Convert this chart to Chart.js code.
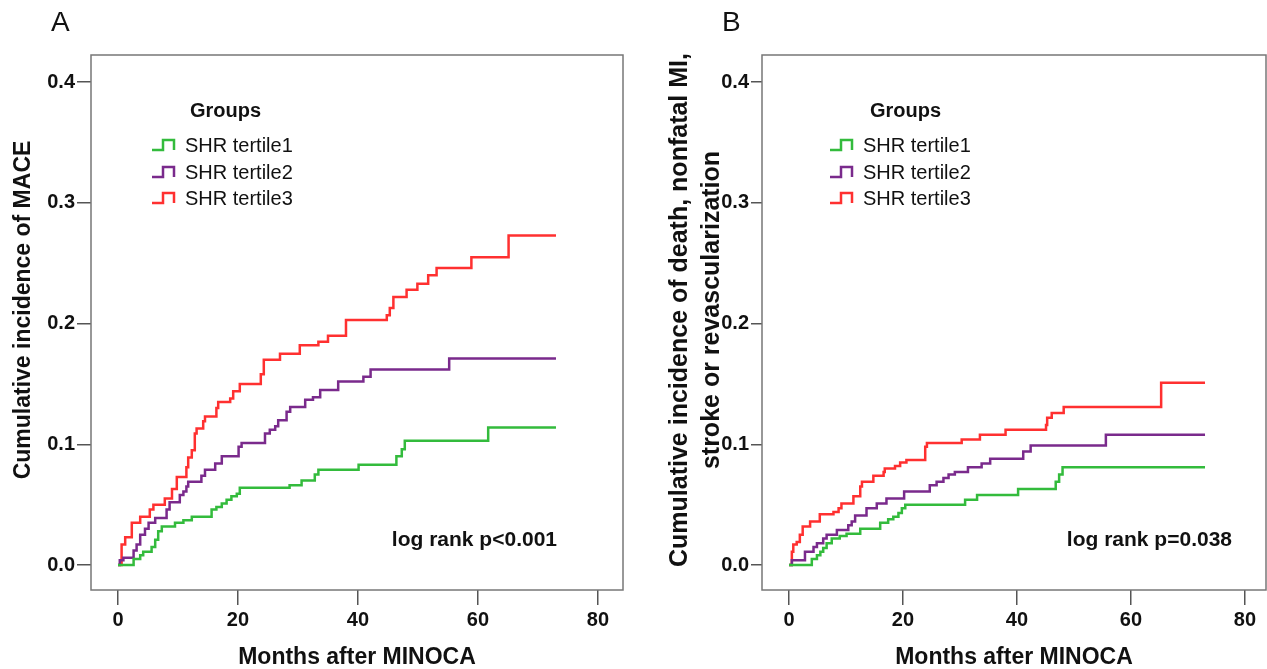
<!DOCTYPE html>
<html>
<head>
<meta charset="utf-8">
<script src="https://cdn.jsdelivr.net/npm/chart.js@4.4.0/dist/chart.umd.min.js"></script>
<style>
  html, body { margin: 0; padding: 0; background: #fff; }
  #wrap { position: relative; width: 1267px; height: 669px; overflow: hidden; }
  .panel { position: absolute; top: 0; height: 669px; }
  #pa { left: 0; width: 633px; }
  #pb { left: 633px; width: 634px; }
  .tag { position: absolute; top: 6px; font: 28px "Liberation Sans", Arial, sans-serif; color: #111; }
</style>
</head>
<body>
<div id="wrap">
  <div class="panel" id="pa"><canvas id="chartA" width="633" height="669"></canvas></div>
  <div class="panel" id="pb"><canvas id="chartB" width="634" height="669"></canvas></div>
  <div class="tag" style="left:51px">A</div>
  <div class="tag" style="left:722px">B</div>
</div>
<script>
// ---- data (months, cumulative incidence) ----
const groupNames = ["SHR tertile1", "SHR tertile2", "SHR tertile3"];
const groupColors = ["#33bb3c", "#7a2a8c", "#ff3030"];
const xTicks = [0, 20, 40, 60, 80];
const yTicks = [0, 0.1, 0.2, 0.3, 0.4];

// Panel A: MACE
const maceT1Months = [0, 2.6, 3.7, 4.2, 5.6, 6.2, 6.7, 7.3, 9.5, 10.9, 12.3, 15.6, 16.4, 17.3, 18.1, 18.9, 19.8, 20.3, 28.6, 30.6, 32.8, 33.4, 40.1, 46.4, 47.3, 47.8, 61.7, 73];
const maceT1 = [0, .005, .008, .011, .015, .021, .028, .032, .035, .037, .040, .046, .048, .051, .054, .057, .059, .064, .066, .070, .075, .079, .083, .090, .096, .103, .114, .114];
const maceT2Months = [0, 0.3, 0.9, 2.6, 3.1, 3.7, 4.5, 5.1, 6.2, 8.1, 8.6, 10.3, 10.9, 11.4, 11.7, 13.9, 14.5, 16.2, 17.3, 20.1, 20.6, 24.5, 25.3, 26.2, 26.7, 28.1, 28.7, 31.2, 32.5, 33.7, 36.7, 40.9, 42.1, 55.2, 73];
const maceT2 = [0, .004, .006, .012, .017, .025, .030, .035, .039, .046, .052, .058, .061, .065, .069, .074, .079, .084, .090, .098, .101, .109, .112, .115, .120, .127, .131, .137, .139, .145, .152, .156, .162, .171, .171];
const maceT3Months = [0, 0.6, 1.2, 2.3, 3.7, 5.3, 5.9, 7.8, 9.0, 9.8, 11.4, 11.7, 12.3, 12.8, 13.1, 14.2, 14.5, 16.4, 16.7, 18.7, 19.2, 20.3, 23.8, 24.3, 27.0, 30.3, 33.4, 35.0, 38.0, 44.8, 45.3, 45.9, 48.1, 49.9, 51.7, 53.1, 58.9, 65.1, 73];
const maceT3 = [0, .017, .023, .035, .040, .046, .050, .055, .063, .073, .081, .089, .095, .109, .113, .119, .123, .130, .135, .138, .144, .150, .158, .170, .175, .182, .185, .190, .203, .207, .213, .222, .228, .233, .240, .246, .255, .273, .273];

// Panel B: death, nonfatal MI, stroke or revascularization
const compT1Months = [0, 4.0, 4.9, 5.5, 6.0, 6.6, 7.5, 8.9, 10.1, 12.5, 16.0, 17.4, 18.3, 19.2, 19.8, 20.4, 30.9, 33.0, 40.2, 46.8, 47.4, 48.0, 73];
const compT1 = [0, .005, .008, .011, .014, .018, .022, .024, .026, .030, .035, .038, .040, .043, .047, .050, .054, .058, .063, .069, .075, .081, .081];
const compT2Months = [0, 0.5, 2.8, 4.3, 4.9, 6.0, 6.6, 8.4, 10.4, 11.0, 11.6, 13.6, 15.4, 17.1, 20.2, 24.7, 25.9, 27.1, 28.0, 29.1, 31.4, 33.8, 35.3, 41.1, 42.4, 55.6, 73];
const compT2 = [0, .004, .011, .015, .018, .022, .025, .029, .033, .036, .041, .047, .051, .055, .061, .066, .069, .072, .075, .077, .081, .084, .088, .094, .099, .108, .108];
const compT3Months = [0, 0.5, 0.75, 1.35, 1.9, 2.4, 3.7, 5.4, 7.8, 8.7, 9.2, 11.3, 12.5, 12.8, 14.8, 16.6, 16.8, 18.6, 19.5, 20.6, 23.9, 24.2, 30.3, 33.5, 38.0, 45.1, 45.3, 46.1, 48.2, 65.3, 73];
const compT3 = [0, .011, .017, .019, .025, .032, .036, .042, .044, .047, .051, .057, .065, .069, .074, .077, .080, .082, .085, .087, .098, .101, .104, .108, .112, .116, .122, .126, .131, .151, .151];

const FONT = '"Liberation Sans", Arial, sans-serif';

function pts(xs, ys) {
  return xs.map((x, i) => ({ x: x, y: ys[i] }));
}

// box round the plot area, rotated y title, legend with step glyphs, log-rank text
const decor = {
  id: 'decor',
  afterDraw(chart, args, o) {
    const ctx = chart.ctx, a = chart.chartArea;
    ctx.save();
    ctx.strokeStyle = '#777';
    ctx.lineWidth = 1.5;
    ctx.strokeRect(a.left, a.top, a.right - a.left, a.bottom - a.top);

    ctx.fillStyle = '#111';
    ctx.textBaseline = 'middle';

    // y axis title
    ctx.save();
    ctx.font = 'bold ' + o.ySize + 'px ' + FONT;
    ctx.textAlign = 'center';
    ctx.translate(o.yX, 310);
    ctx.rotate(-Math.PI / 2);
    o.yTitle.forEach((line, i) => ctx.fillText(line, 0, i * o.yGap));
    ctx.restore();

    ctx.textAlign = 'left';
    ctx.font = 'bold 20px ' + FONT;
    ctx.fillText('Groups', o.groupsX, 111);
    ctx.font = '20px ' + FONT;
    const rows = [146, 173, 199];
    chart.data.datasets.forEach((ds, i) => {
      const y = rows[i];
      ctx.strokeStyle = ds.borderColor;
      ctx.lineWidth = 2.5;
      ctx.beginPath();
      ctx.moveTo(o.symX, y + 4);
      ctx.lineTo(o.symX + 11, y + 4);
      ctx.lineTo(o.symX + 11, y - 6);
      ctx.lineTo(o.symX + 22, y - 6);
      ctx.lineTo(o.symX + 22, y + 4);
      ctx.stroke();
      ctx.fillText(ds.label, o.textX, y);
    });

    ctx.font = 'bold 21px ' + FONT;
    ctx.textAlign = 'right';
    ctx.fillText(o.pText, o.pX, 540);
    ctx.restore();
  }
};

function makeChart(id, cfg) {
  const W = document.getElementById(id).width;
  const series = cfg.series;
  new Chart(document.getElementById(id), {
    type: 'line',
    data: {
      datasets: series.map((s, i) => ({
        label: groupNames[i],
        data: pts(s[0], s[1]),
        borderColor: groupColors[i],
        borderWidth: 2.5,
        stepped: 'before',
        pointRadius: 0,
        fill: false
      }))
    },
    options: {
      responsive: false,
      animation: false,
      layout: { padding: { top: 55, right: W - cfg.right, left: 0, bottom: 0 } },
      plugins: {
        legend: { display: false },
        tooltip: { enabled: false },
        decor: cfg.decor
      },
      scales: {
        x: {
          type: 'linear',
          min: cfg.xMin,
          max: cfg.xMax,
          afterBuildTicks: ax => { ax.ticks = xTicks.map(v => ({ value: v })); },
          afterFit: ax => { ax.height = 669 - 590; },
          grid: { drawOnChartArea: false, drawTicks: true, tickLength: 15, color: '#555', lineWidth: 1.5 },
          border: { display: false },
          ticks: { color: '#111', font: { family: FONT, size: 20, weight: 'bold' }, padding: 3, maxRotation: 0 },
          title: { display: true, text: 'Months after MINOCA', color: '#111',
                   font: { family: FONT, size: 23, weight: 'bold', lineHeight: 1.0 }, padding: { top: 0, bottom: 0 } }
        },
        y: {
          min: -0.0207,
          max: 0.4225,
          afterBuildTicks: ax => { ax.ticks = yTicks.map(v => ({ value: v })); },
          afterFit: ax => { ax.width = cfg.left; },
          grid: { drawOnChartArea: false, drawTicks: true, tickLength: cfg.yTick, color: '#555', lineWidth: 1.5 },
          border: { display: false },
          ticks: { color: '#111', font: { family: FONT, size: 20, weight: 'bold' }, padding: 2,
                   callback: v => Number(v).toFixed(1) },
          title: { display: false }
        }
      }
    },
    plugins: [decor]
  });
}

makeChart('chartA', {
  left: 91, right: 623, xMin: -4.5, xMax: 84.17, yTick: 14,
  series: [[maceT1Months, maceT1], [maceT2Months, maceT2], [maceT3Months, maceT3]],
  decor: { yTitle: ['Cumulative incidence of MACE'], ySize: 23, yX: 24, yGap: 0,
           groupsX: 190, symX: 152, textX: 185, pText: 'log rank p<0.001', pX: 557 }
});

makeChart('chartB', {
  left: 129, right: 633, xMin: -4.74, xMax: 83.7, yTick: 11,
  series: [[compT1Months, compT1], [compT2Months, compT2], [compT3Months, compT3]],
  decor: { yTitle: ['Cumulative incidence of death, nonfatal MI,', 'stroke or revascularization'], ySize: 25, yX: 47, yGap: 32,
           groupsX: 237, symX: 197, textX: 230, pText: 'log rank p=0.038', pX: 599 }
});
</script>
</body>
</html>
